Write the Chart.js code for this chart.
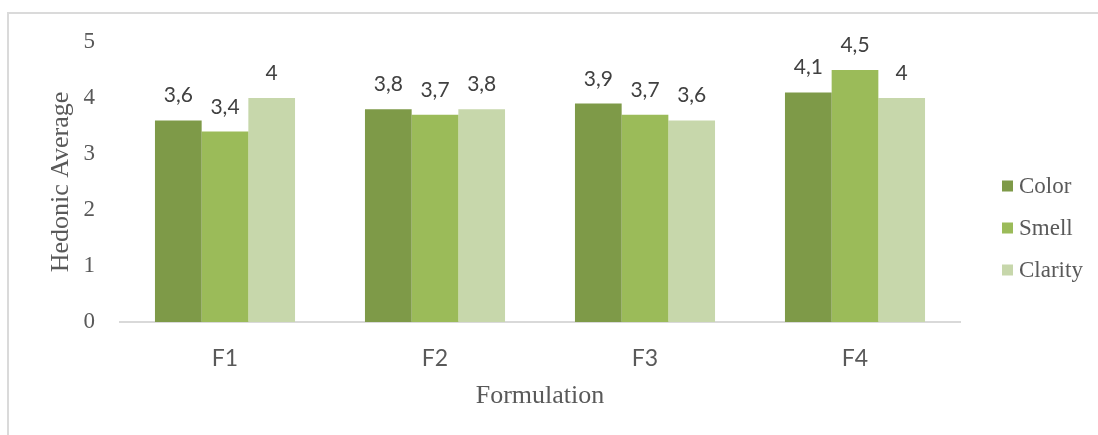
<!DOCTYPE html>
<html>
<head>
<meta charset="utf-8">
<script src="https://cdn.jsdelivr.net/npm/chart.js@4/dist/chart.umd.min.js"></script>
<style>
  html, body { margin: 0; padding: 0; background: #fff; overflow: hidden; }
  #wrap { position: relative; width: 1098px; height: 435px; }
  #frame { position: absolute; left: 7px; top: 12px; width: 1200px; height: 600px;
           border-left: 2px solid #dadada; border-top: 2px solid #dadada; }
  canvas { position: absolute; left: 0; top: 0; }
</style>
</head>
<body>
<div id="wrap">
  <div id="frame"></div>
  <canvas id="chart" width="1098" height="435"></canvas>
</div>
<script>
// Formulations and hedonic scores per attribute
const categories = ['F1', 'F2', 'F3', 'F4'];
const colorScores = [3.6, 3.8, 3.9, 4.1];
const smellScores = [3.4, 3.7, 3.7, 4.5];
const clarityScores = [4.0, 3.8, 3.6, 4.0];
const yTicks = [0, 1, 2, 3, 4, 5];

const seriesNames = ['Color', 'Smell', 'Clarity'];
const seriesColors = ['#7e9a48', '#9bbb59', '#c7d7ab'];

const serif = "'Liberation Serif', 'Times New Roman', serif";
const sans = "Lato, 'Open Sans', sans-serif";

// Value labels above each bar, decimal comma
const valueLabels = {
  id: 'valueLabels',
  afterDatasetsDraw(chart) {
    const ctx = chart.ctx;
    ctx.save();
    ctx.font = '21px ' + sans;
    ctx.fillStyle = '#404040';
    ctx.textAlign = 'center';
    ctx.textBaseline = 'alphabetic';
    chart.data.datasets.forEach((ds, i) => {
      chart.getDatasetMeta(i).data.forEach((bar, j) => {
        const txt = String(ds.data[j]).replace('.', ',');
        ctx.fillText(txt, bar.x, bar.y - 18);
      });
    });
    ctx.restore();
  }
};

// Legend column at the right side
const sideLegend = {
  id: 'sideLegend',
  afterDraw(chart) {
    const ctx = chart.ctx;
    ctx.save();
    ctx.font = '23px ' + serif;
    ctx.textBaseline = 'middle';
    ctx.textAlign = 'left';
    chart.data.datasets.forEach((ds, i) => {
      const cy = 186 + i * 42;
      ctx.fillStyle = ds.backgroundColor;
      ctx.fillRect(1002, cy - 5.5, 11, 11);
      ctx.fillStyle = '#595959';
      ctx.fillText(ds.label, 1019, cy + 1);
    });
    ctx.restore();
  }
};

new Chart(document.getElementById('chart'), {
  type: 'bar',
  data: {
    labels: categories,
    datasets: [
      { label: seriesNames[0], data: colorScores, backgroundColor: seriesColors[0] },
      { label: seriesNames[1], data: smellScores, backgroundColor: seriesColors[1] },
      { label: seriesNames[2], data: clarityScores, backgroundColor: seriesColors[2] }
    ]
  },
  options: {
    responsive: false,
    devicePixelRatio: 1,
    animation: false,
    layout: { padding: { left: 0, top: 42, right: 138, bottom: 0 } },
    datasets: { bar: { categoryPercentage: 0.667, barPercentage: 1.0, borderWidth: 0 } },
    plugins: { legend: { display: false }, tooltip: { enabled: false } },
    scales: {
      x: {
        grid: { display: false, drawTicks: false },
        border: { display: true, color: '#d9d9d9', width: 2 },
        ticks: { color: '#595959', font: { family: sans, size: 23 }, padding: 23 },
        title: {
          display: true, text: 'Formulation', color: '#595959',
          font: { family: serif, size: 26, lineHeight: 1 },
          padding: { top: 0, bottom: 26 }
        },
        afterFit(scale) { scale.height = 113; }
      },
      y: {
        min: 0, max: 5,
        grid: { display: false, drawTicks: false },
        border: { display: false },
        afterBuildTicks(scale) { scale.ticks = yTicks.map(v => ({ value: v })); },
        ticks: { color: '#595959', font: { family: serif, size: 23 }, padding: 25 },
        title: {
          display: true, text: 'Hedonic Average', color: '#595959',
          font: { family: serif, size: 26, lineHeight: 1 },
          padding: { top: 48, bottom: 0 }
        },
        afterFit(scale) { scale.width = 120; }
      }
    }
  },
  plugins: [valueLabels, sideLegend]
});
</script>
</body>
</html>
